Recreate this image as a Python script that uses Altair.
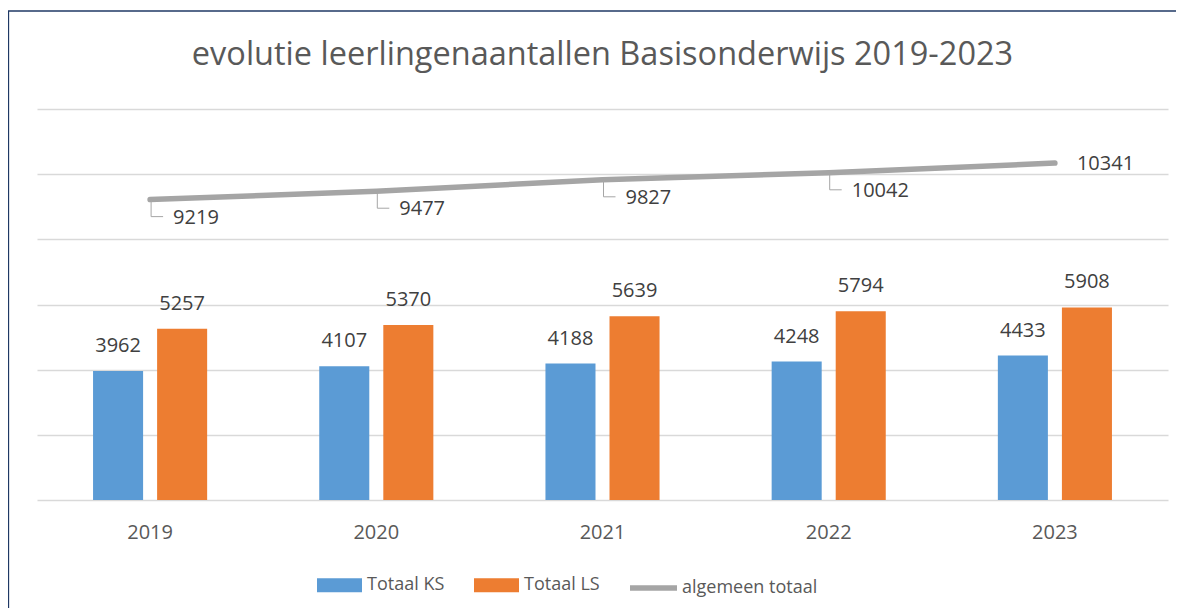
import altair as alt
import pandas as pd

years = ["2019", "2020", "2021", "2022", "2023"]
totaal_ks = [3962, 4107, 4188, 4248, 4433]
totaal_ls = [5257, 5370, 5639, 5794, 5908]
algemeen_totaal = [9219, 9477, 9827, 10042, 10341]
bar_series = ["Totaal KS", "Totaal LS"]
line_series = "algemeen totaal"
grid_values = [0, 2000, 4000, 6000, 8000, 10000, 12000]

bars = pd.DataFrame({
    "jaar": years * 2,
    "reeks": [bar_series[0]] * len(years) + [bar_series[1]] * len(years),
    "aantal": totaal_ks + totaal_ls,
})
line_df = pd.DataFrame({
    "jaar": years,
    "reeks": [line_series] * len(years),
    "aantal": algemeen_totaal,
})

FONT = "Open Sans"
W, H = 1131, 391

x_scale = alt.Scale(paddingInner=0, paddingOuter=0)
y_scale = alt.Scale(domain=[0, 12000], nice=False, zero=True)

x_axis = alt.Axis(title=None, labelAngle=0, domain=False, ticks=False, tickSize=0,
                  labelPadding=22, labelFontSize=20, labelColor="#595959",
                  labelFont=FONT, grid=False)
y_axis = alt.Axis(title=None, labels=False, ticks=False, domain=False,
                  values=grid_values, grid=True, gridColor="#D9D9D9", gridWidth=1.3)

x_enc = alt.X("jaar:N", scale=x_scale, axis=x_axis, sort=years)
y_enc = alt.Y("aantal:Q", scale=y_scale, axis=y_axis)
x_off = alt.XOffset("reeks:N", scale=alt.Scale(paddingInner=0.21875, paddingOuter=0.875))

base_bars = alt.Chart(bars)

bar_layer = base_bars.mark_bar().encode(
    x=x_enc,
    xOffset=x_off,
    y=y_enc,
    color=alt.Color(
        "reeks:N",
        scale=alt.Scale(domain=bar_series, range=["#5B9BD5", "#ED7D31"]),
        legend=alt.Legend(
            title=None, orient="none", legendX=280, legendY=453.5,
            direction="horizontal", symbolType="M-1,-0.311H1V0.311H-1Z",
            symbolSize=2025, symbolStrokeWidth=0, labelFontSize=18,
            labelFont=FONT, labelColor="#595959", labelOffset=5,
            columnPadding=29, padding=0,
        ),
    ),
)

bar_text = base_bars.mark_text(
    dy=-25, baseline="middle", fontSize=20, font=FONT, color="#404040"
).encode(
    x=x_enc, xOffset=x_off, y=y_enc, text=alt.Text("aantal:Q", format="d")
)

base_line = alt.Chart(line_df)

line_layer = base_line.mark_line(strokeWidth=5.5, strokeCap="round").encode(
    x=x_enc,
    y=y_enc,
    stroke=alt.Stroke(
        "reeks:N",
        scale=alt.Scale(domain=[line_series], range=["#A5A5A5"]),
        legend=alt.Legend(
            title=None, orient="none", legendX=590, legendY=452.5,
            direction="horizontal", symbolType="stroke", symbolSize=2209,
            symbolStrokeWidth=5.5, labelFontSize=18, labelFont=FONT,
            labelColor="#595959", labelOffset=2, padding=0,
        ),
    ),
)

leader_v = base_line.transform_filter(alt.datum.jaar != "2023").mark_rule(
    color="#A6A6A6", strokeWidth=1, xOffset=1, y2Offset=17
).encode(
    x=alt.X("jaar:N", scale=x_scale, sort=years),
    y=alt.Y("aantal:Q", scale=y_scale),
    y2=alt.Y2("aantal:Q"),
)

leader_h = base_line.transform_filter(alt.datum.jaar != "2023").mark_rule(
    color="#A6A6A6", strokeWidth=1, xOffset=1, x2Offset=13, yOffset=17
).encode(
    x=alt.X("jaar:N", scale=x_scale, sort=years, bandPosition=0.5),
    x2=alt.X2("jaar:N", bandPosition=0.5),
    y=alt.Y("aantal:Q", scale=y_scale),
)

line_text = base_line.transform_filter(alt.datum.jaar != "2023").mark_text(
    align="left", baseline="middle", dx=23, dy=18, fontSize=20, font=FONT, color="#404040"
).encode(
    x=x_enc, y=y_enc, text=alt.Text("aantal:Q", format="d")
)

line_text_last = base_line.transform_filter(alt.datum.jaar == "2023").mark_text(
    align="left", baseline="middle", dx=22, dy=1, fontSize=20, font=FONT, color="#404040"
).encode(
    x=x_enc, y=y_enc, text=alt.Text("aantal:Q", format="d")
)

frame_data = alt.Data(values=[{}])
border_top = alt.Chart(frame_data).mark_rule(color="#1F3864", strokeWidth=1.5).encode(
    x=alt.value(-29), x2=alt.value(1139), y=alt.value(-98)
)
border_left = alt.Chart(frame_data).mark_rule(color="#1F3864", strokeWidth=1.5).encode(
    x=alt.value(-28.6), y=alt.value(-98), y2=alt.value(499)
)

chart = alt.layer(
    border_top, border_left, bar_layer, bar_text, line_layer,
    leader_v, leader_h, line_text, line_text_last,
).properties(
    width=W,
    height=H,
    title=alt.TitleParams(
        "evolutie leerlingenaantallen Basisonderwijs 2019-2023",
        font=FONT, fontSize=32.5, color="#595959", fontWeight="normal",
        anchor="middle", frame="group", baseline="alphabetic", offset=-87,
    ),
    autosize=alt.AutoSizeParams(type="none"),
    padding={"left": 29, "top": 101, "right": 8, "bottom": 108},
    background="white",
).configure_view(stroke=None)

chart.save("out.html", embed_options={"renderer": "svg", "actions": False})
